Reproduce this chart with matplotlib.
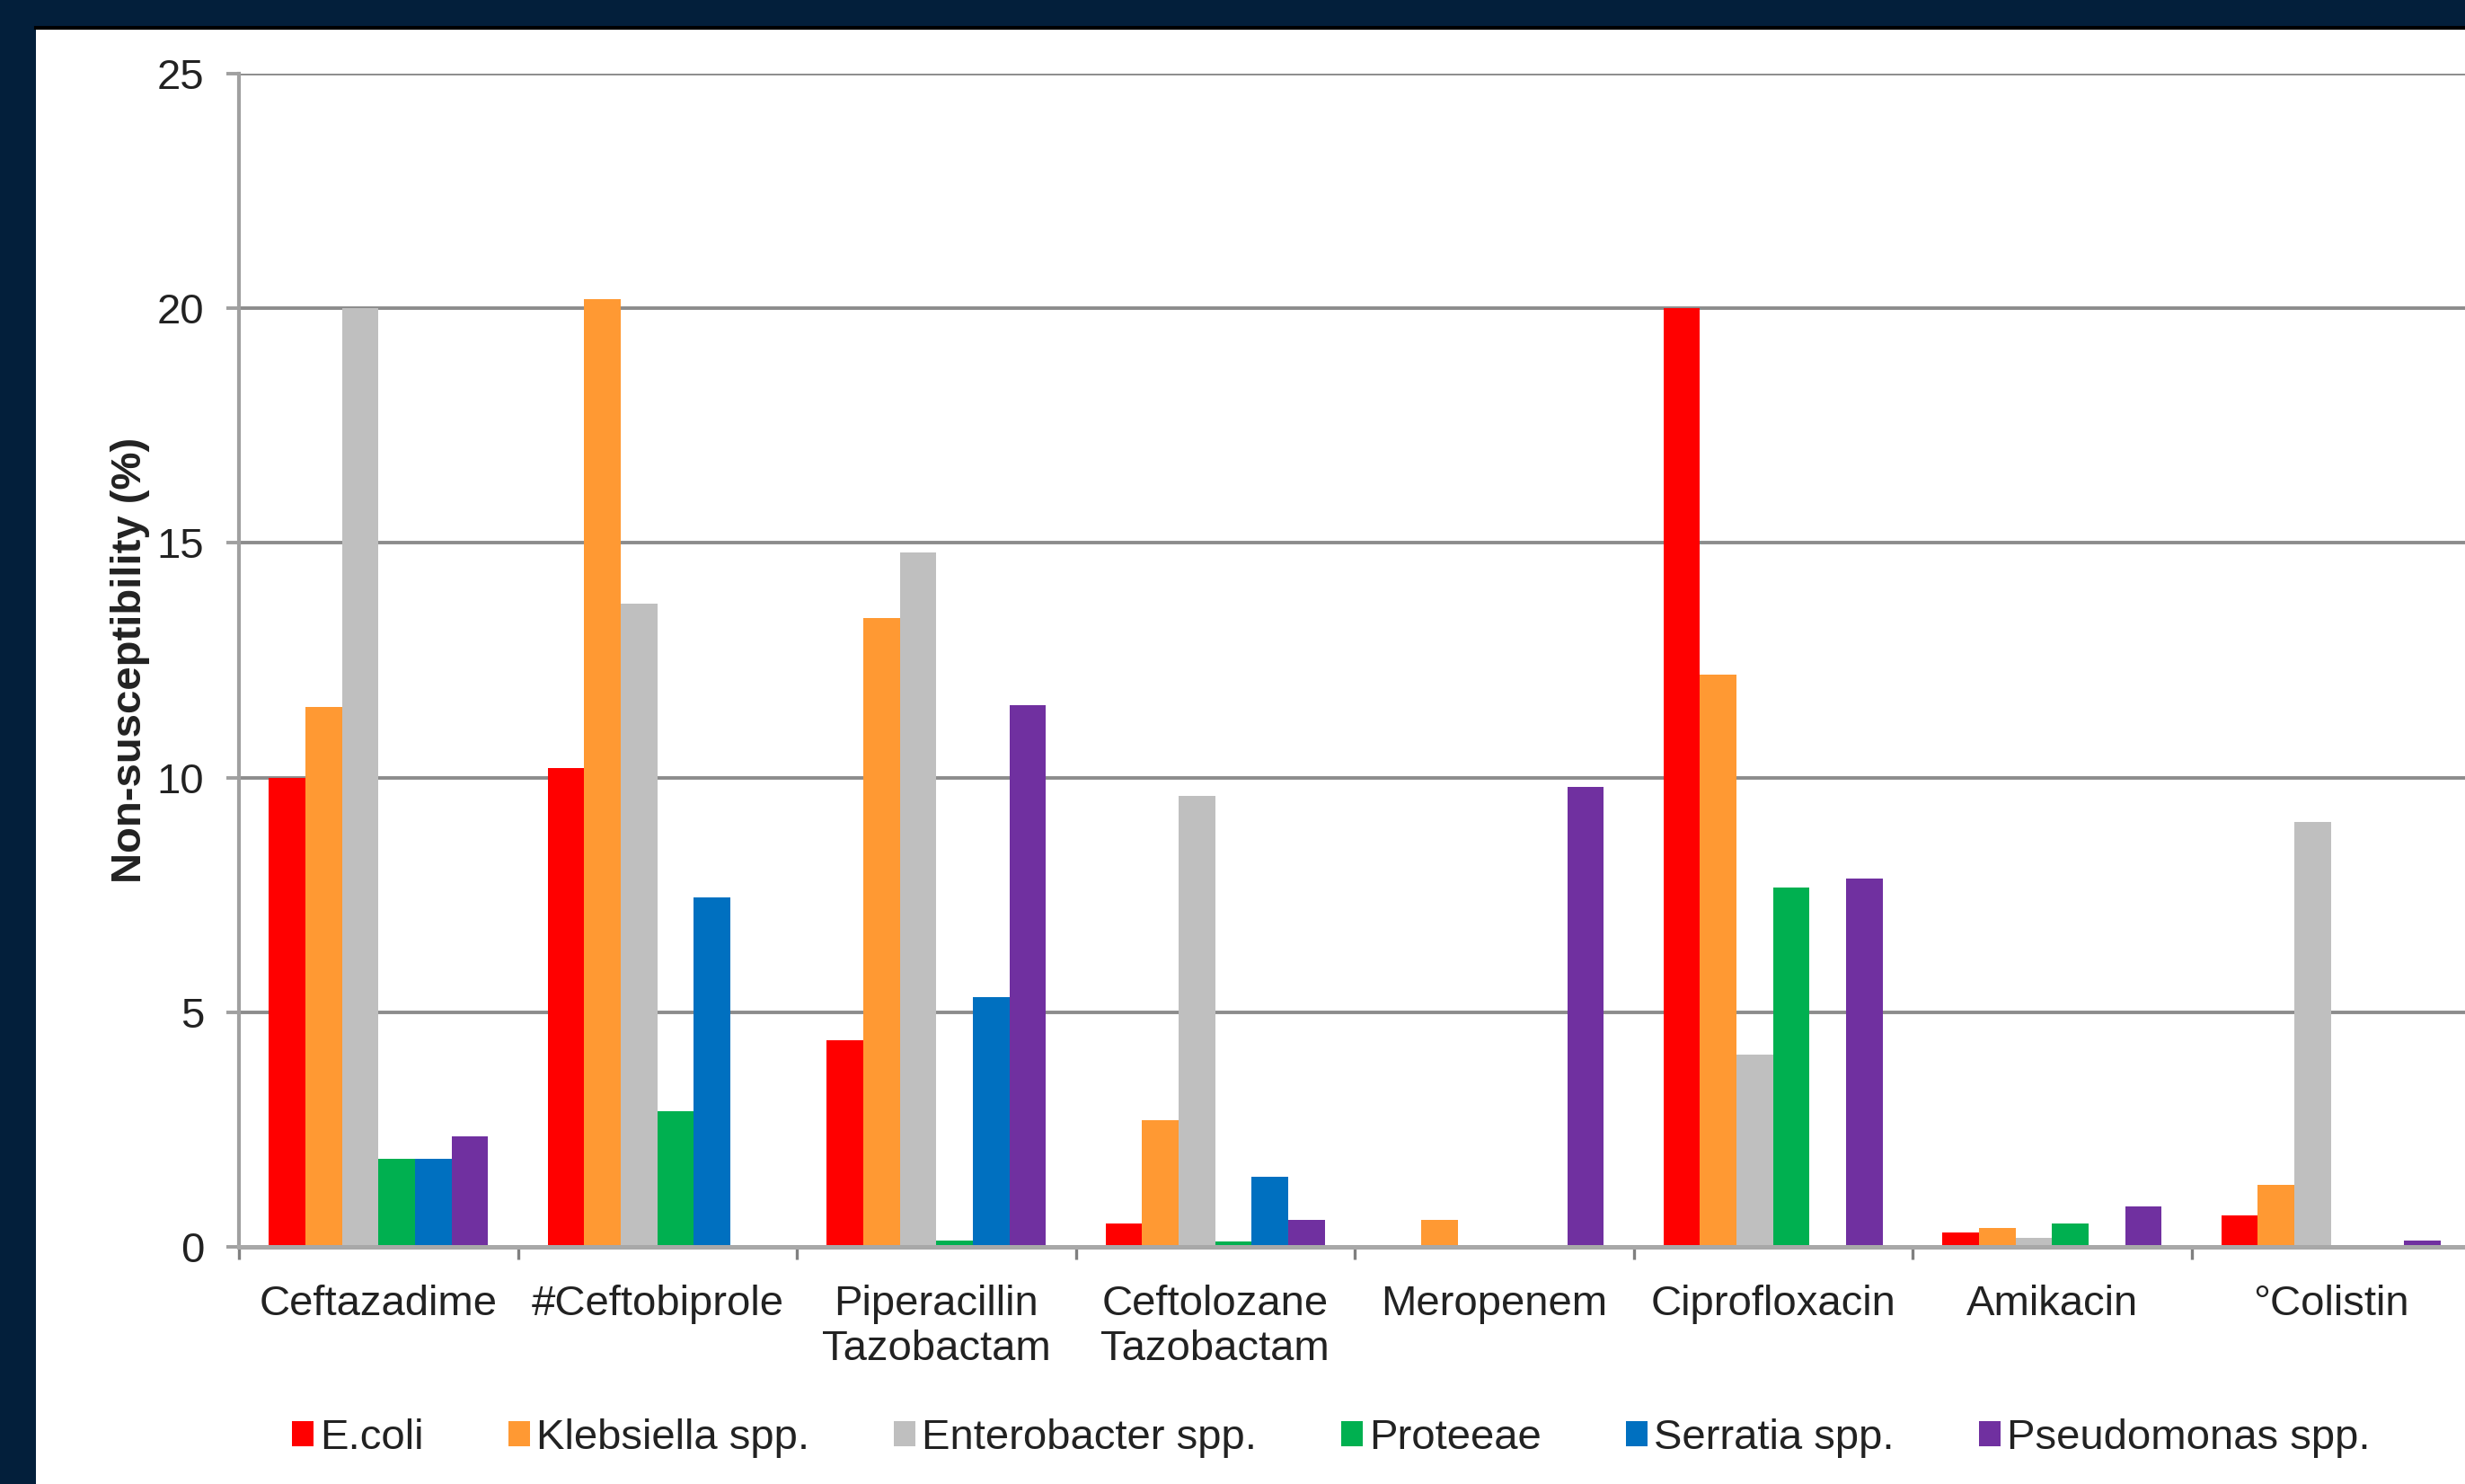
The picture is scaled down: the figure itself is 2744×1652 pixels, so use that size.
import numpy as np
import matplotlib
matplotlib.use("Agg")
import matplotlib.pyplot as plt
from matplotlib.patches import Patch, Rectangle
from matplotlib.lines import Line2D

drugs = ["Ceftazadime", "#Ceftobiprole", "Piperacillin\nTazobactam",
         "Ceftolozane\nTazobactam", "Meropenem", "Ciprofloxacin",
         "Amikacin", "°Colistin"]
species = ["E.coli", "Klebsiella spp.", "Enterobacter spp.", "Proteeae",
           "Serratia spp.", "Pseudomonas spp."]
colors = ["#FF0000", "#FF9933", "#BFBFBF", "#00B050", "#0070C0", "#7030A0"]

ecoli        = [10.0, 10.2, 4.4, 0.5, 0.0, 20.0, 0.3, 0.67]
klebsiella   = [11.5, 20.2, 13.4, 2.7, 0.57, 12.2, 0.4, 1.32]
enterobacter = [20.0, 13.7, 14.8, 9.6, 0.0, 4.1, 0.2, 9.05]
proteeae     = [1.88, 2.9, 0.13, 0.12, 0.0, 7.65, 0.5, 0.0]
serratia     = [1.88, 7.45, 5.33, 1.5, 0.0, 0.0, 0.0, 0.0]
pseudomonas  = [2.36, 0.0, 11.55, 0.58, 9.8, 7.85, 0.86, 0.14]
series = [ecoli, klebsiella, enterobacter, proteeae, serratia, pseudomonas]

plt.rcParams['font.family'] = ['Liberation Sans', 'DejaVu Sans']
fs = 17

fig = plt.figure(figsize=(13.72, 8.26), dpi=200, facecolor="#031F3B")
W, H = 2744.0, 1652.0
# white slide area
fig.patches.append(Rectangle((40/W, 0), 1, (H-31)/H, transform=fig.transFigure,
                             facecolor="white", edgecolor="none", zorder=-5))
fig.lines.append(Line2D([40/W, 1], [(H-31)/H, (H-31)/H], transform=fig.transFigure,
                        color="black", lw=1.5, zorder=-4))

left = 266/W
right = 2750/W
bottom = (H-1388)/H
top = (H-82)/H
ax = fig.add_axes([left, bottom, right-left, top-bottom])
ax.set_facecolor("none")

x = np.arange(len(drugs))
w = 0.131
for i, (vals, c) in enumerate(zip(series, colors)):
    ax.bar(x + (i-2.5)*w, vals, width=w, color=c, edgecolor="none", label=species[i])

ax.set_xlim(-0.5, len(drugs)-0.5)
ax.set_ylim(0, 25)
ax.set_yticks([0, 5, 10, 15, 20, 25])
ax.yaxis.grid(True, color="#8C8C8C", lw=1.4)
ax.set_axisbelow(True)

for s in ["top", "right"]:
    ax.spines[s].set_visible(False)
ax.spines["left"].set_color("#A0A0A0")
ax.spines["left"].set_linewidth(1.5)
ax.spines["bottom"].set_color("#A8A8A8")
ax.spines["bottom"].set_linewidth(1.8)

ax.set_xticks(x)
ax.set_xticklabels(drugs)
ax.set_xticks(np.arange(len(drugs)+1)-0.5, minor=True)
ax.tick_params(axis="x", which="major", length=0, pad=15, labelsize=fs, labelcolor="#222222")
ax.tick_params(axis="x", which="minor", length=5, width=1.2, color="#808080")
ax.tick_params(axis="y", length=5, width=1.4, color="#A0A0A0", pad=9,
               labelsize=fs, labelcolor="#222222")

ax.set_ylabel("Non-susceptibility (%)", fontsize=fs, fontweight="bold", color="#222222")
ax.yaxis.set_label_coords(-0.040, 0.5)

handles = [Patch(facecolor=c, edgecolor="none") for c in colors]
fig.legend(handles, species, loc="center", bbox_to_anchor=(0.54, 0.031),
           ncol=6, frameon=False, fontsize=fs, handlelength=0.5, handleheight=0.55,
           handletextpad=0.15, columnspacing=2.0, labelcolor="#222222")

fig.savefig("out.png", dpi=200, facecolor=fig.get_facecolor())
